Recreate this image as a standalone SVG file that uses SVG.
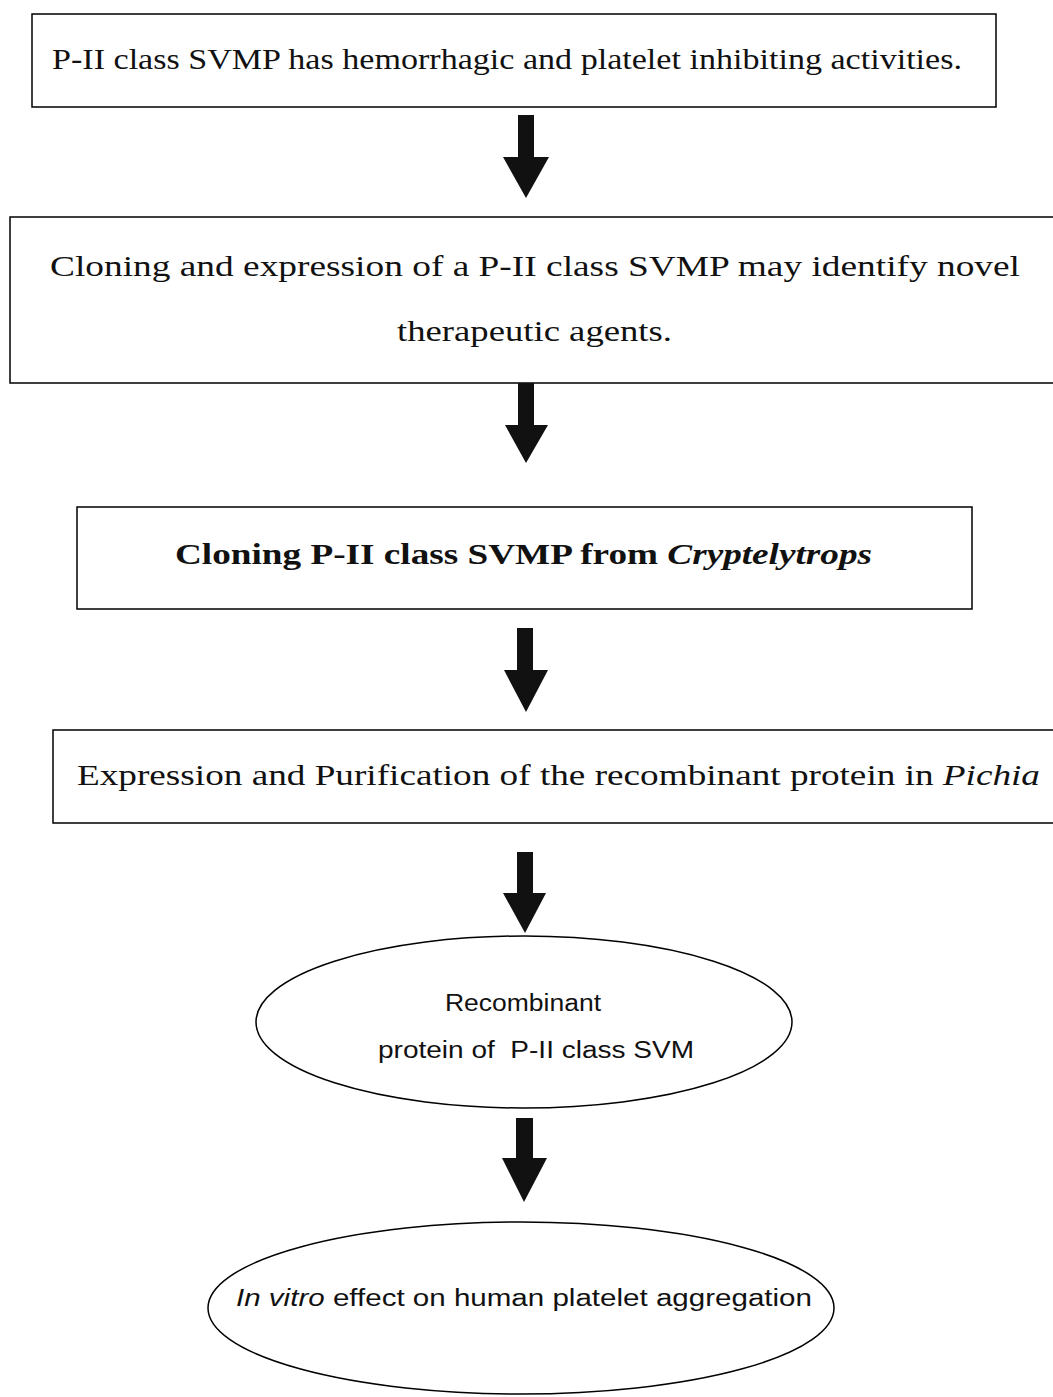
<svg xmlns="http://www.w3.org/2000/svg" width="1053" height="1397" viewBox="0 0 1053 1397">
<style>
.box{fill:#fff;stroke:#000;stroke-width:1.5}
.ser{font-family:"Liberation Serif","DejaVu Serif",serif;font-size:29px;fill:#111}
.sans{font-family:"Liberation Sans",Arial,sans-serif;font-size:23px;fill:#111}
.arr{fill:#111}
</style>
<rect width="1053" height="1397" fill="#fff"/>
<g id="node1">
<rect class="box" x="32" y="14" width="964" height="93"/>
<text class="ser" x="52" y="69" textLength="910" lengthAdjust="spacingAndGlyphs">P-II class SVMP has hemorrhagic and platelet inhibiting activities.</text>
</g>
<g id="node2">
<rect class="box" x="10" y="217" width="1050" height="166"/>
<text class="ser" x="50" y="276" textLength="970" lengthAdjust="spacingAndGlyphs">Cloning and expression of a P-II class SVMP may identify novel</text>
<text class="ser" x="397" y="341" textLength="275" lengthAdjust="spacingAndGlyphs">therapeutic agents.</text>
</g>
<g id="node3">
<rect class="box" x="77" y="507" width="895" height="102"/>
<text class="ser" x="175" y="564" font-weight="bold" textLength="697" lengthAdjust="spacingAndGlyphs">Cloning P-II class SVMP from <tspan font-style="italic">Cryptelytrops</tspan></text>
</g>
<g id="node4">
<rect class="box" x="53" y="730" width="1010" height="93"/>
<text class="ser" x="77" y="785" textLength="963" lengthAdjust="spacingAndGlyphs">Expression and Purification of the recombinant protein in <tspan font-style="italic">Pichia</tspan></text>
</g>
<g id="node5">
<ellipse class="box" cx="524" cy="1022" rx="268" ry="86"/>
<text class="sans" x="445" y="1011" textLength="156" lengthAdjust="spacingAndGlyphs">Recombinant</text>
<text class="sans" x="378" y="1058" textLength="316" lengthAdjust="spacingAndGlyphs" xml:space="preserve">protein of  P-II class SVM</text>
</g>
<g id="node6">
<ellipse class="box" cx="521" cy="1308" rx="313" ry="86"/>
<text class="sans" x="236" y="1306" font-size="25" textLength="576" lengthAdjust="spacingAndGlyphs"><tspan font-style="italic">In vitro</tspan> effect on human platelet aggregation</text>
</g>
<g id="connectors">
<polygon class="arr" points="518,115 534,115 534,157 549,157 526,198 503,157 518,157"/>
<polygon class="arr" points="518,383 534,383 534,425 548,425 526,463 505,425 518,425"/>
<polygon class="arr" points="517,628 533,628 533,670 548,670 526,712 504,670 517,670"/>
<polygon class="arr" points="517,852 533,852 533,893 546,893 525,933 503,893 517,893"/>
<polygon class="arr" points="516,1118 533,1118 533,1158 547,1158 524,1202 502,1158 516,1158"/>
</g>
</svg>
